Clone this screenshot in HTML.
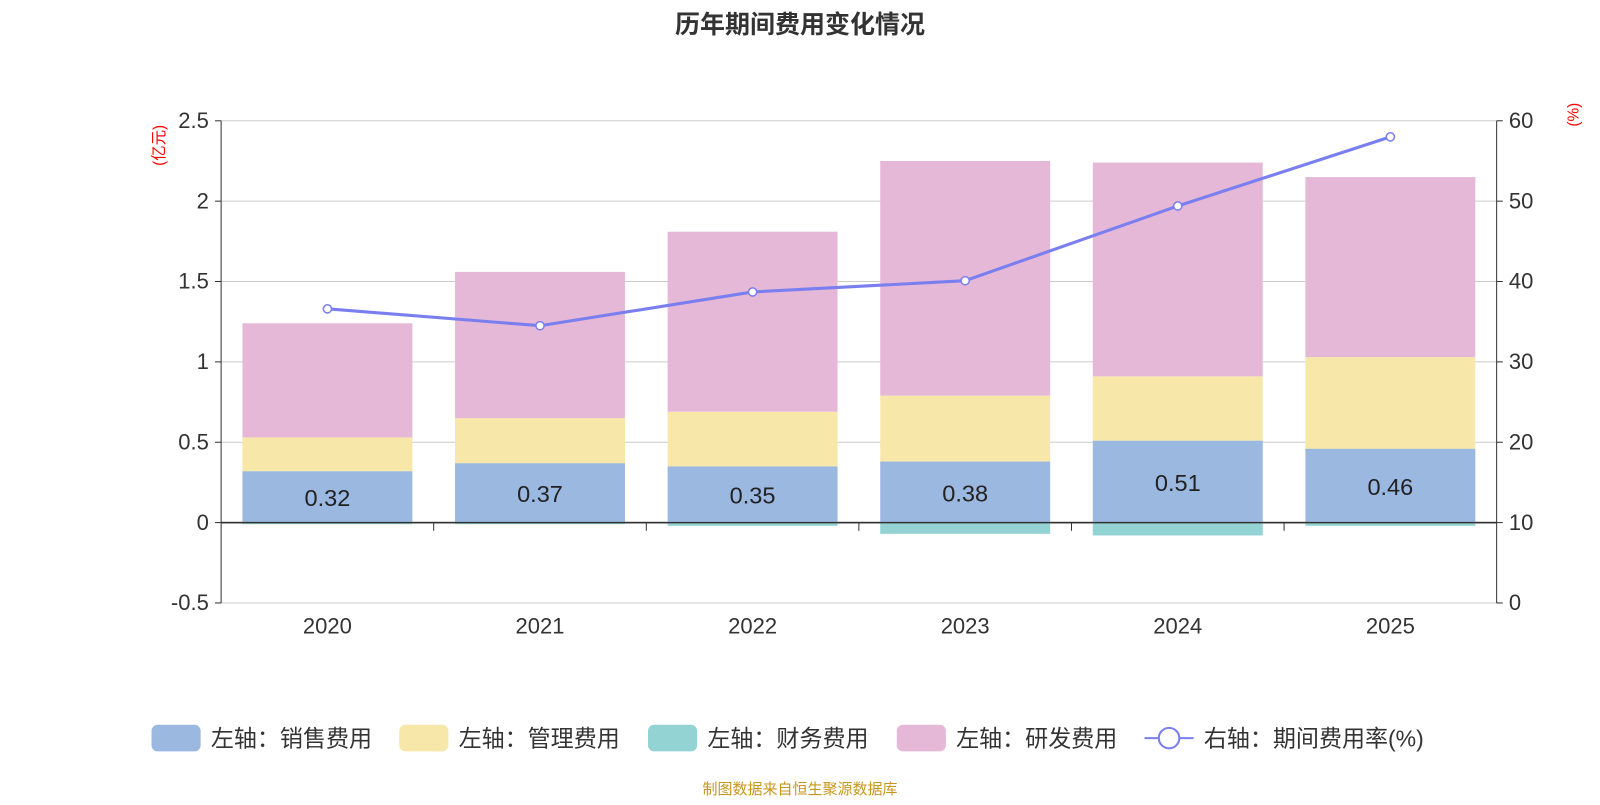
<!DOCTYPE html>
<html><head><meta charset="utf-8"><style>
body{margin:0;background:#fff;font-family:"Liberation Sans","Noto Sans CJK SC",sans-serif}
svg text{font-family:"Liberation Sans","Noto Sans CJK SC",sans-serif}
</style></head><body>
<svg id="c" width="1600" height="800">
<text x="800" y="33" text-anchor="middle" font-size="25" font-weight="bold" fill="#333">历年期间费用变化情况</text>
<text x="800" y="794" text-anchor="middle" font-size="15" fill="#c8961e">制图数据来自恒生聚源数据库</text>
<g id="g" transform="scale(1.0237)"></g>
</svg>
<script>
const categories=["2020","2021","2022","2023","2024","2025"];
const sales=[0.32,0.37,0.35,0.38,0.51,0.46];
const admin=[0.21,0.28,0.34,0.41,0.40,0.57];
const finance=[-0.01,-0.01,-0.02,-0.07,-0.08,-0.02];
const rnd=[0.71,0.91,1.12,1.46,1.33,1.12];
const rate=[36.6,34.5,38.7,40.1,49.4,58.0];
const leftTicks=[-0.5,0,0.5,1,1.5,2,2.5];
const rightTicks=[0,10,20,30,40,50,60];
const NS="http://www.w3.org/2000/svg";
const g=document.getElementById('g');
function mk(t,a,txt){const e=document.createElementNS(NS,t);for(const k in a)e.setAttribute(k,a[k]);if(txt!=null)e.textContent=txt;g.appendChild(e);return e;}
const L=216,R=1462,T=118,B=589;
const yL=v=>B-(v+0.5)/3*(B-T);
const yR=v=>B-v/60*(B-T);
const bw=(R-L)/categories.length;
const xC=i=>L+bw*(i+0.5);
leftTicks.forEach(v=>{
 let e=mk('line',{x1:L,x2:R,y1:yL(v),y2:yL(v),stroke:v===0?'#333':'#ccc','stroke-width':v===0?1.5:1});
 
 e=mk('text',{x:L-12,y:yL(v)+7,'text-anchor':'end','font-size':21.5,fill:'#333'},String(v));
 
 mk('line',{x1:L-6,x2:L,y1:yL(v),y2:yL(v),stroke:'#333'});
});
rightTicks.forEach(v=>{
 let e=mk('text',{x:R+12,y:yR(v)+7,'font-size':21.5,fill:'#333'},String(v));
 
 mk('line',{x1:R,x2:R+6,y1:yR(v),y2:yR(v),stroke:'#333'});
});
mk('line',{x1:L,x2:L,y1:T,y2:B,stroke:'#333'});
mk('line',{x1:R,x2:R,y1:T,y2:B,stroke:'#333'});
let t=mk('text',{x:160,y:142,'font-size':15,fill:'red',transform:'rotate(-90 160 142)','text-anchor':'middle'},'(亿元)');

t=mk('text',{x:1542,y:112,'font-size':15,fill:'red',transform:'rotate(-90 1542 112)','text-anchor':'middle'},'(%)');

const bwid=166;
categories.forEach((c,i)=>{
 const x=xC(i)-bwid/2;
 if(i>0)mk('line',{x1:L+bw*i,x2:L+bw*i,y1:yL(0),y2:yL(0)+8,stroke:'#333'});
 let e=mk('text',{x:xC(i),y:619,'text-anchor':'middle','font-size':21.5,fill:'#333'},c);
 
 let y0=yL(0),y1=yL(sales[i]);
 e=mk('rect',{x:x,y:y1,width:bwid,height:y0-y1,fill:'#9bb8e1'});
 
 let y2=yL(sales[i]+admin[i]);
 e=mk('rect',{x:x,y:y2,width:bwid,height:y1-y2,fill:'#f7e7a8'});
 
 let y3=yL(sales[i]+admin[i]+rnd[i]);
 e=mk('rect',{x:x,y:y3,width:bwid,height:y2-y3,fill:'#e6b8d8'});
 
 let yf=yL(finance[i]);
 e=mk('rect',{x:x,y:y0,width:bwid,height:yf-y0,fill:'#94d3d3'});
 
 e=mk('text',{x:xC(i),y:(y0+y1)/2+9,'text-anchor':'middle','font-size':23,fill:'#222'},sales[i].toFixed(2));
 
});
mk('line',{x1:L,x2:R,y1:yL(0),y2:yL(0),stroke:'#333','stroke-width':1.5});
let pl=mk('polyline',{points:rate.map((v,i)=>xC(i)+','+yR(v)).join(' '),fill:'none',stroke:'#7a7ff0','stroke-width':3});

rate.forEach((v,i)=>{const e=mk('circle',{cx:xC(i),cy:yR(v),r:4,fill:'#fff',stroke:'#7a7ff0','stroke-width':1.5});
 });
const leg=[["左轴：销售费用","#9bb8e1",148],["左轴：管理费用","#f7e7a8",390],["左轴：财务费用","#94d3d3",633],["左轴：研发费用","#e6b8d8",876]];
leg.forEach(l=>{let e=mk('rect',{x:l[2],y:708,width:48,height:26,rx:6,fill:l[1]});
 
 e=mk('text',{x:l[2]+58,y:729,'font-size':22.5,fill:'#333'},l[0]);
 });
mk('line',{x1:1118,x2:1166,y1:721,y2:721,stroke:'#7a7ff0','stroke-width':2});
let lc=mk('circle',{cx:1142,cy:721,r:10,fill:'#fff',stroke:'#7a7ff0','stroke-width':2});

t=mk('text',{x:1176,y:729,'font-size':22.5,fill:'#333'},'右轴：期间费用率(%)');

</script>
</body></html>
